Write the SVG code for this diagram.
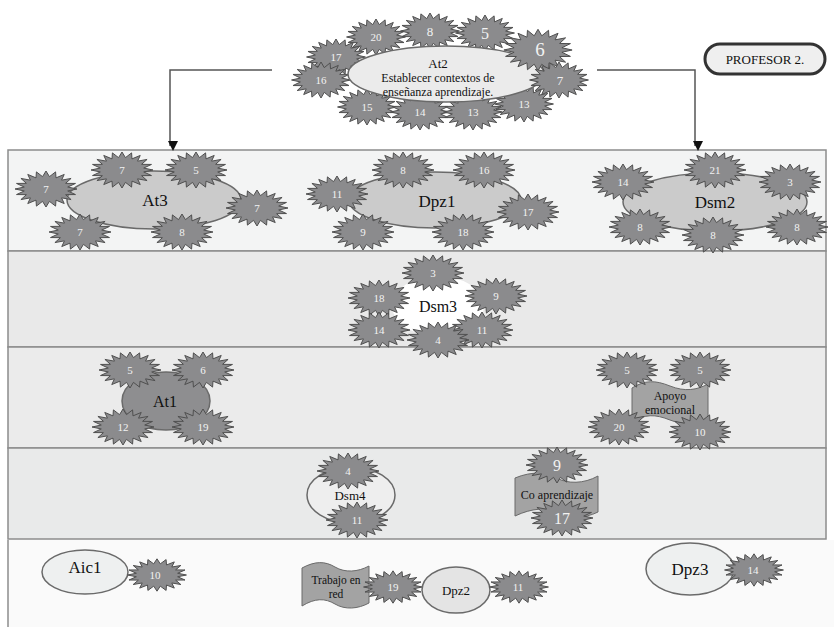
<svg xmlns="http://www.w3.org/2000/svg" xmlns:xlink="http://www.w3.org/1999/xlink" width="834" height="627" viewBox="0 0 834 627" font-family="'Liberation Serif', 'DejaVu Serif', serif">
<style>
text{font-family:'Liberation Serif','DejaVu Serif',serif}
.t{fill:#111;text-anchor:middle}
.sn{fill:#f2f2f2;font-size:11px;text-anchor:middle}
.band{stroke:#8c8c8c;stroke-width:1.5}
.ell{stroke:#6a6a6a;stroke-width:1.5}
.ban{fill:#a3a3a3;stroke:#6a6a6a;stroke-width:1}
.conn{fill:none;stroke:#555;stroke-width:1.5}
</style>
<defs>
<path id="star" d="M31,0 L21.73,1.96 L29.48,5.56 L19.6,5.68 L25.08,10.58 L15.56,8.84 L18.22,14.56 L9.99,11.14 L9.58,17.12 L3.44,12.35 L0,18 L-3.44,12.35 L-9.58,17.12 L-9.99,11.14 L-18.22,14.56 L-15.56,8.84 L-25.08,10.58 L-19.6,5.68 L-29.48,5.56 L-21.73,1.96 L-31,0 L-21.73,-1.96 L-29.48,-5.56 L-19.6,-5.68 L-25.08,-10.58 L-15.56,-8.84 L-18.22,-14.56 L-9.99,-11.14 L-9.58,-17.12 L-3.44,-12.35 L0,-18 L3.44,-12.35 L9.58,-17.12 L9.99,-11.14 L18.22,-14.56 L15.56,-8.84 L25.08,-10.58 L19.6,-5.68 L29.48,-5.56 L21.73,-1.96 Z" fill="#8b8b8d" stroke="#4f4f4f" stroke-width="1" vector-effect="non-scaling-stroke"/>
<marker id="arr" markerWidth="10" markerHeight="10" refX="5" refY="8" orient="auto" markerUnits="userSpaceOnUse" viewBox="0 0 10 10">
<path d="M0,0 L10,0 L5,10 Z" fill="#111" transform="rotate(-90 5 5)"/>
</marker>
</defs>

<!-- bands -->
<g id="bands">
<rect class="band" x="8" y="150" width="818" height="101" fill="#f3f4f4"/>
<rect class="band" x="8" y="251" width="818" height="96" fill="#e9e9e9"/>
<rect class="band" x="8" y="347" width="818" height="101" fill="#ebebeb"/>
<rect class="band" x="8" y="448" width="818" height="91" fill="#e9eaea"/>
<rect x="8" y="540" width="826" height="90" fill="#fafafa"/>
<line x1="8" y1="540" x2="8" y2="627" stroke="#8c8c8c" stroke-width="1.5"/>
</g>

<!-- connectors -->
<g id="connectors">
<path class="conn" d="M272,70 H170 V146" marker-end="url(#arr)"/>
<path class="conn" d="M597,70 H695 V146" marker-end="url(#arr)"/>
</g>

<!-- At2 -->
<g id="at2">
<use href="#star" transform="translate(376,37) scale(0.95,1)"/>
<use href="#star" transform="translate(430,31) scale(0.95,1)"/>
<use href="#star" transform="translate(485,33) scale(0.95,1)"/>
<use href="#star" transform="translate(336,57) scale(0.95,1)"/>
<use href="#star" transform="translate(321,80) scale(0.95,1)"/>
<use href="#star" transform="translate(367,107) scale(0.95,1)"/>
<use href="#star" transform="translate(420,112) scale(0.95,1)"/>
<use href="#star" transform="translate(473,112) scale(0.95,1)"/>
<use href="#star" transform="translate(524,104) scale(0.95,1)"/>
<ellipse class="ell" cx="446" cy="74" rx="98" ry="28" fill="#ebebeb"/>
<use href="#star" transform="translate(538,50) scale(1.1,1.15)"/>
<use href="#star" transform="translate(559,80) scale(0.95,1)"/>
<text class="sn" x="376" y="41">20</text>
<text class="sn" x="430" y="36" style="font-size:13px">8</text>
<text class="sn" x="485" y="39" style="font-size:16px">5</text>
<text class="sn" x="540" y="56" style="font-size:19px">6</text>
<text class="sn" x="336" y="61">17</text>
<text class="sn" x="321" y="84">16</text>
<text class="sn" x="560" y="85" style="font-size:13px">7</text>
<text class="sn" x="367" y="111">15</text>
<text class="sn" x="420" y="116">14</text>
<text class="sn" x="473" y="116">13</text>
<text class="sn" x="524" y="108">13</text>
<text class="t" x="438" y="68" style="font-size:13px">At2</text>
<text class="t" x="438" y="82" style="font-size:12px">Establecer contextos de</text>
<text class="t" x="438" y="96" style="font-size:12px">enseñanza aprendizaje.</text>
</g>

<!-- Profesor -->
<g id="profesor">
<rect x="705" y="44" width="120" height="30" rx="15" fill="#efefef" stroke="#333" stroke-width="3"/>
<text class="t" x="765" y="64" style="font-size:13px">PROFESOR 2.</text>
</g>

<!-- At3 -->
<g id="at3">
<ellipse class="ell" cx="154" cy="200" rx="87" ry="29" fill="#cbcbcb"/>
<text class="t" x="155" y="206" style="font-size:17px">At3</text>
<use href="#star" transform="translate(46,189)"/><text class="sn" x="46" y="193">7</text>
<use href="#star" transform="translate(122,170)"/><text class="sn" x="122" y="174">7</text>
<use href="#star" transform="translate(196,170)"/><text class="sn" x="196" y="174">5</text>
<use href="#star" transform="translate(257,208)"/><text class="sn" x="257" y="212">7</text>
<use href="#star" transform="translate(80,232)"/><text class="sn" x="80" y="236">7</text>
<use href="#star" transform="translate(182,232)"/><text class="sn" x="182" y="236">8</text>
</g>

<!-- Dpz1 -->
<g id="dpz1">
<ellipse class="ell" cx="435" cy="200" rx="86" ry="28" fill="#cbcbcb"/>
<text class="t" x="437" y="207" style="font-size:17px">Dpz1</text>
<use href="#star" transform="translate(403,170)"/><text class="sn" x="403" y="174">8</text>
<use href="#star" transform="translate(484,170)"/><text class="sn" x="484" y="174">16</text>
<use href="#star" transform="translate(337,194)"/><text class="sn" x="337" y="198">11</text>
<use href="#star" transform="translate(528,212)"/><text class="sn" x="528" y="216">17</text>
<use href="#star" transform="translate(363,232)"/><text class="sn" x="363" y="236">9</text>
<use href="#star" transform="translate(463,232)"/><text class="sn" x="463" y="236">18</text>
</g>

<!-- Dsm2 -->
<g id="dsm2">
<ellipse class="ell" cx="715" cy="202" rx="92" ry="29" fill="#cbcbcb"/>
<text class="t" x="715" y="208" style="font-size:17px">Dsm2</text>
<use href="#star" transform="translate(623,182)"/><text class="sn" x="623" y="186">14</text>
<use href="#star" transform="translate(715,170)"/><text class="sn" x="715" y="174">21</text>
<use href="#star" transform="translate(790,182)"/><text class="sn" x="790" y="186">3</text>
<use href="#star" transform="translate(640,227)"/><text class="sn" x="640" y="231">8</text>
<use href="#star" transform="translate(713,235)"/><text class="sn" x="713" y="239">8</text>
<use href="#star" transform="translate(797,227)"/><text class="sn" x="797" y="231">8</text>
</g>

<!-- Dsm3 -->
<g id="dsm3">
<ellipse cx="438" cy="306" rx="46" ry="30" fill="#ffffff"/>
<text class="t" x="438" y="312" style="font-size:16px">Dsm3</text>
<use href="#star" transform="translate(433,273)"/><text class="sn" x="433" y="277">3</text>
<use href="#star" transform="translate(379,298)"/><text class="sn" x="379" y="302">18</text>
<use href="#star" transform="translate(496,296)"/><text class="sn" x="496" y="300">9</text>
<use href="#star" transform="translate(379,330)"/><text class="sn" x="379" y="334">14</text>
<use href="#star" transform="translate(482,330)"/><text class="sn" x="482" y="334">11</text>
<use href="#star" transform="translate(438,340)"/><text class="sn" x="438" y="344">4</text>
</g>

<!-- At1 -->
<g id="at1">
<ellipse class="ell" cx="166" cy="401" rx="44" ry="29" fill="#8e8e90"/>
<text class="t" x="165" y="407" style="font-size:16px">At1</text>
<use href="#star" transform="translate(130,370)"/><text class="sn" x="130" y="374">5</text>
<use href="#star" transform="translate(203,370)"/><text class="sn" x="203" y="374">6</text>
<use href="#star" transform="translate(123,427)"/><text class="sn" x="123" y="431">12</text>
<use href="#star" transform="translate(203,427)"/><text class="sn" x="203" y="431">19</text>
</g>

<!-- Apoyo emocional -->
<g id="apoyo">
<path class="ban" d="M632,388 C645,380 655,380 670,386 C685,392 697,390 708,384 L708,418 C697,424 685,426 670,420 C655,414 645,414 632,422 Z"/>
<use href="#star" transform="translate(627,370)"/><text class="sn" x="627" y="374">5</text>
<use href="#star" transform="translate(700,370)"/><text class="sn" x="700" y="374">5</text>
<use href="#star" transform="translate(619,427)"/><text class="sn" x="619" y="431">20</text>
<use href="#star" transform="translate(700,432)"/><text class="sn" x="700" y="436">10</text>
<text class="t" x="670" y="400" style="font-size:12px">Apoyo</text>
<text class="t" x="670" y="414" style="font-size:12px">emocional</text>
</g>

<!-- Dsm4 -->
<g id="dsm4">
<ellipse class="ell" cx="351" cy="495" rx="44" ry="28" fill="#eeeeee"/>
<text class="t" x="350" y="500" style="font-size:13px">Dsm4</text>
<use href="#star" transform="translate(348,471)"/><text class="sn" x="348" y="475">4</text>
<use href="#star" transform="translate(357,520)"/><text class="sn" x="357" y="524">11</text>
</g>

<!-- Co aprendizaje -->
<g id="coaprendizaje">
<path class="ban" d="M515,478 C532,471 547,472 557,478 C567,484 584,484 598,476 L598,512 C584,519 567,519 557,513 C547,507 532,508 515,516 Z"/>
<text class="t" x="557" y="499" style="font-size:12px">Co aprendizaje</text>
<use href="#star" transform="translate(557,465)"/><text class="sn" x="557" y="471" style="font-size:16px">9</text>
<use href="#star" transform="translate(562,518)"/><text class="sn" x="562" y="524" style="font-size:16px">17</text>
</g>

<!-- Aic1 -->
<g id="aic1">
<ellipse class="ell" cx="85" cy="572" rx="43" ry="22" fill="#eef0f0"/>
<text class="t" x="85" y="573" style="font-size:17px">Aic1</text>
<use href="#star" transform="translate(157,575) scale(0.95,0.9)"/><text class="sn" x="155" y="579">10</text>
</g>

<!-- Trabajo en red -->
<g id="trabajo">
<path class="ban" d="M302,568 C315,561 325,561 335,567 C345,573 358,572 369,566 L369,603 C358,609 345,610 335,604 C325,598 315,598 302,606 Z"/>
<text class="t" x="336" y="584" style="font-size:11.5px">Trabajo en</text>
<text class="t" x="336" y="598" style="font-size:11.5px">red</text>
</g>
<g id="s19">
<use href="#star" transform="translate(393,587) scale(0.95,0.9)"/><text class="sn" x="393" y="591">19</text>
</g>

<!-- Dpz2 -->
<g id="dpz2">
<ellipse class="ell" cx="456" cy="590" rx="34" ry="23" fill="#e4e4e4"/>
<text class="t" x="456" y="595" style="font-size:13px">Dpz2</text>
<use href="#star" transform="translate(519,587) scale(0.95,0.9)"/><text class="sn" x="518" y="591">11</text>
</g>

<!-- Dpz3 -->
<g id="dpz3">
<ellipse class="ell" cx="690" cy="569" rx="44" ry="26" fill="#eef0f0"/>
<text class="t" x="690" y="575" style="font-size:17px">Dpz3</text>
<use href="#star" transform="translate(754,570) scale(0.95,0.9)"/><text class="sn" x="753" y="574">14</text>
</g>
</svg>
